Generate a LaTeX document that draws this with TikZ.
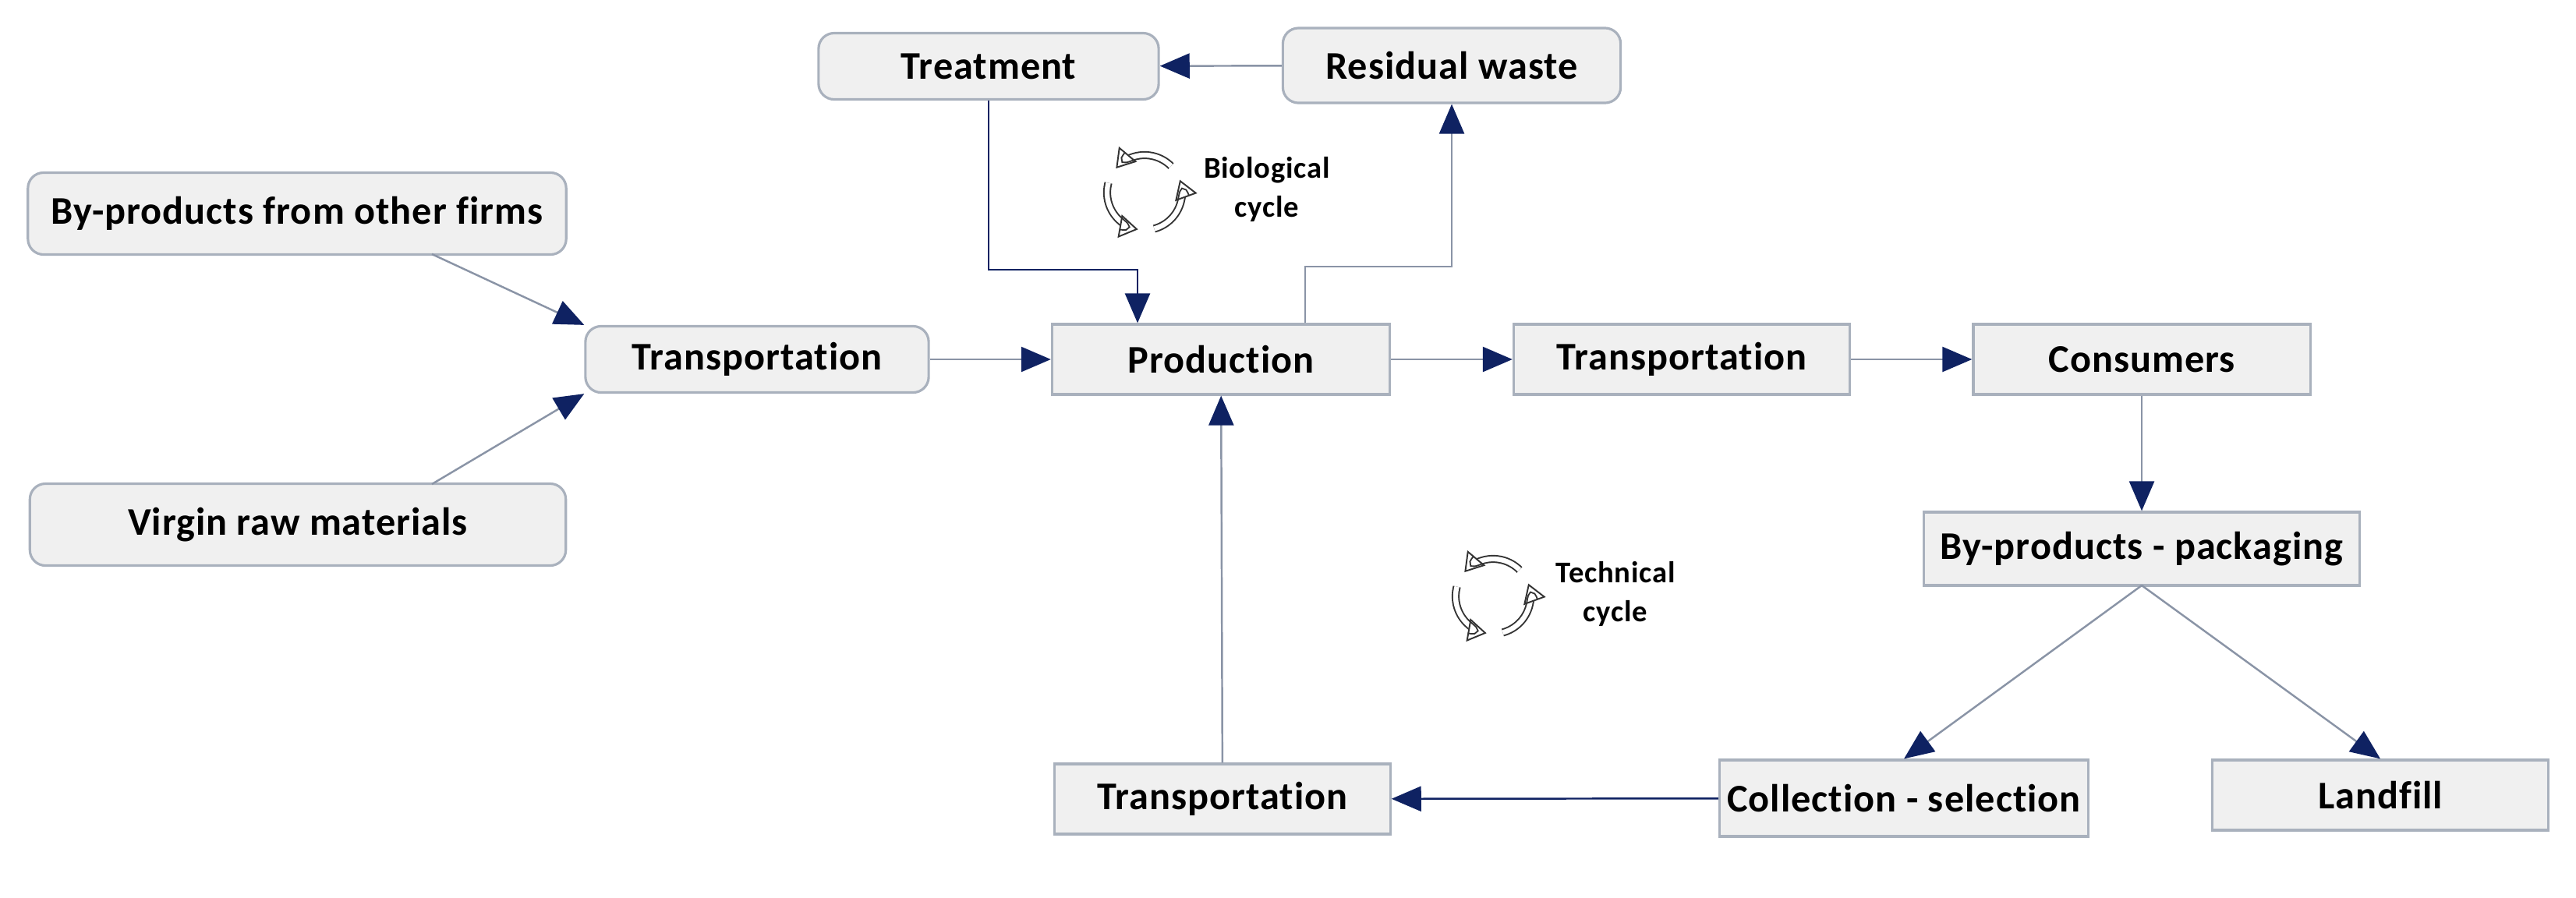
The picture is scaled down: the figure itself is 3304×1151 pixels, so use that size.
\documentclass[tikz,border=0pt]{standalone}
\usepackage{fontspec}
\setmainfont{Carlito}[Ligatures={NoCommon},LetterSpace=2]
\usetikzlibrary{arrows.meta}
\definecolor{boxfill}{HTML}{F0F0F0}
\definecolor{boxdraw}{HTML}{A9B1BD}
\definecolor{navy}{HTML}{0F2262}
\definecolor{lgray}{HTML}{8A94A6}
\begin{document}
\begin{tikzpicture}[x=0.01cm,y=-0.01cm,
  box/.style={draw=boxdraw,fill=boxfill,line width=0.9pt,font=\bfseries\fontsize{14.3}{17}\selectfont,inner sep=0pt,anchor=center},
  rbox/.style={box,rounded corners=0.2cm},
  conn/.style={draw=lgray,line width=0.7pt,-{Triangle[length=0.38cm,width=0.32cm,color=navy,fill=navy]}},
  nconn/.style={conn,draw=navy},
  lab/.style={font=\bfseries\fontsize{11}{14}\selectfont,align=center},
  cyc/.style={line width=0.55pt,draw=black!80,-{Triangle[open,length=0.24cm,width=0.3cm]}}]
\useasboundingbox (0,0) rectangle (3304,1151);
\node[rbox,minimum width=4.36cm,minimum height=0.85cm] (treat) at (1268,85) {Treatment};
\node[rbox,minimum width=4.33cm,minimum height=0.96cm] (resid) at (1862,84) {Residual waste};
\node[rbox,minimum width=6.9cm,minimum height=1.05cm] (byp) at (381,274) {By-products from other firms};
\node[rbox,minimum width=6.87cm,minimum height=1.05cm] (virgin) at (382,673) {Virgin raw materials};
\node[rbox,minimum width=4.4cm,minimum height=0.85cm] (tr1) at (971,461) {Transportation};
\node[box,minimum width=4.33cm,minimum height=0.9cm] (prod) at (1566,461) {Production};
\node[box,minimum width=4.31cm,minimum height=0.9cm] (tr2) at (2157,461) {Transportation};
\node[box,minimum width=4.32cm,minimum height=0.9cm] (cons) at (2747,461) {Consumers};
\node[box,minimum width=5.59cm,minimum height=0.94cm] (pack) at (2747,704) {By-products - packaging};
\node[box,minimum width=4.3cm,minimum height=0.9cm] (tr3) at (1568,1025) {Transportation};
\node[box,minimum width=4.73cm,minimum height=0.98cm] (coll) at (2442,1024) {Collection - selection};
\node[box,minimum width=4.31cm,minimum height=0.9cm] (land) at (3053,1020) {Landfill};
\coordinate (b1) at (554,326);
\coordinate (v1) at (554,621);
\coordinate (tcorner1) at (1268,346);
\coordinate (tcorner2) at (1459,346);
\coordinate (pcorner1) at (1674,342);
\coordinate (pcorner2) at (1862,342);
\coordinate (pb) at (2747,751);
\draw[conn] (b1) -- (tr1.north west);
\draw[conn] (v1) -- (tr1.south west);
\draw[conn] (tr1) -- (prod);
\draw[conn] (prod) -- (tr2);
\draw[conn] (tr2) -- (cons);
\draw[conn] (cons) -- (pack);
\draw[conn] (resid) -- (treat);
\draw[nconn] (treat.south) -- (tcorner1) -- (tcorner2) -- (prod.north -| tcorner2);
\draw[conn] (prod.north -| pcorner1) -- (pcorner1) -- (pcorner2) -- (resid.south);
\draw[conn] (tr3) -- (prod);
\draw[nconn] (coll) -- (tr3);
\draw[conn] (pb) -- (coll.north);
\draw[conn] (pb) -- (land.north);
% cycle icons
\foreach \cx/\cy/\nm in {1468/247/bio,1915/765/tec}{
  \coordinate (\nm) at (\cx,\cy);
  \draw[cyc,double=white,double distance=1.8pt] ([shift={(45:0.48cm)}]\nm) arc[start angle=45,end angle=140,radius=0.48cm];
  \draw[cyc,double=white,double distance=1.8pt] ([shift={(165:0.48cm)}]\nm) arc[start angle=165,end angle=260,radius=0.48cm];
  \draw[cyc,double=white,double distance=1.8pt] ([shift={(285:0.48cm)}]\nm) arc[start angle=285,end angle=380,radius=0.48cm];
}
\node[lab] (biolab) at (1625,243) {Biological\\cycle};
\node[lab] (teclab) at (2072,762) {Technical\\cycle};
\end{tikzpicture}
\end{document}
